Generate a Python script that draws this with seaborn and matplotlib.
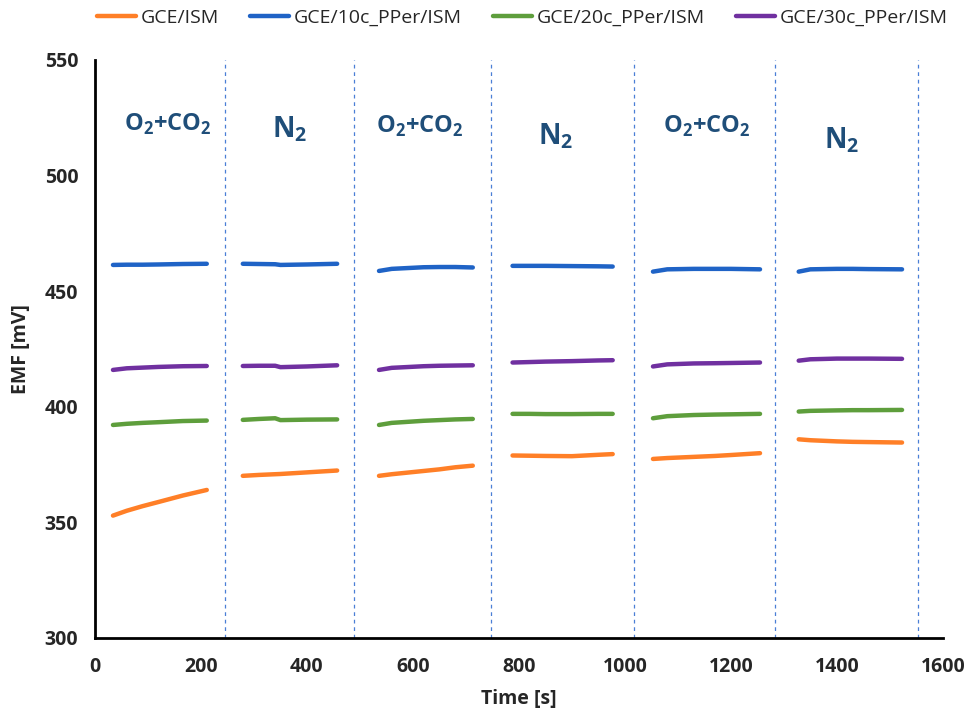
import numpy as np
import pandas as pd
import matplotlib
matplotlib.use("Agg")
import matplotlib.pyplot as plt
import seaborn as sns

# ---- data ----
series_names = ["GCE/ISM", "GCE/10c_PPer/ISM", "GCE/20c_PPer/ISM", "GCE/30c_PPer/ISM"]
series_colors = ["#FF7F27", "#1F63C6", "#5E9E3C", "#7030A0"]

seg_times = [
    [34, 60, 90, 120, 166, 211],
    [279, 310, 340, 350, 400, 457],
    [536, 560, 620, 650, 680, 713],
    [788, 820, 850, 900, 950, 977],
    [1053, 1080, 1130, 1170, 1200, 1255],
    [1328, 1350, 1400, 1430, 1460, 1523],
]

orange = [
    [352.9, 355.0, 357.0, 358.8, 361.6, 364.0],
    [370.1, 370.5, 370.8, 370.9, 371.6, 372.4],
    [370.1, 370.8, 372.2, 372.9, 373.8, 374.5],
    [378.9, 378.8, 378.7, 378.6, 379.2, 379.5],
    [377.4, 377.8, 378.3, 378.7, 379.1, 379.9],
    [385.9, 385.5, 385.0, 384.8, 384.7, 384.5],
]
blue = [
    [461.3, 461.4, 461.4, 461.5, 461.7, 461.8],
    [461.8, 461.7, 461.6, 461.3, 461.5, 461.8],
    [458.7, 459.6, 460.3, 460.4, 460.4, 460.2],
    [460.9, 460.9, 460.9, 460.8, 460.7, 460.6],
    [458.4, 459.4, 459.6, 459.6, 459.6, 459.4],
    [458.4, 459.4, 459.6, 459.6, 459.5, 459.4],
]
green = [
    [392.1, 392.6, 393.0, 393.3, 393.8, 394.0],
    [394.3, 394.7, 395.0, 394.2, 394.4, 394.5],
    [392.1, 393.0, 393.9, 394.2, 394.5, 394.7],
    [396.9, 396.9, 396.8, 396.8, 396.9, 396.9],
    [395.0, 395.9, 396.4, 396.6, 396.7, 396.9],
    [397.9, 398.2, 398.4, 398.5, 398.5, 398.6],
]
purple = [
    [415.9, 416.6, 416.9, 417.2, 417.5, 417.6],
    [417.6, 417.7, 417.7, 417.1, 417.4, 417.9],
    [415.9, 416.8, 417.5, 417.7, 417.8, 417.9],
    [419.1, 419.3, 419.5, 419.7, 420.0, 420.1],
    [417.4, 418.3, 418.7, 418.8, 418.9, 419.1],
    [419.9, 420.5, 420.8, 420.8, 420.8, 420.7],
]

divider_times = [245, 489, 748, 1018, 1284, 1553]
gas_labels = [r"O$_\mathbf{2}$+CO$_\mathbf{2}$", r"N$_\mathbf{2}$",
              r"O$_\mathbf{2}$+CO$_\mathbf{2}$", r"N$_\mathbf{2}$",
              r"O$_\mathbf{2}$+CO$_\mathbf{2}$", r"N$_\mathbf{2}$"]
gas_x = [138, 368, 613, 870, 1155, 1410]
gas_y = [522, 520, 521, 517, 521, 515]

# ---- build long table ----
rows = []
for name, data in zip(series_names, [orange, blue, green, purple]):
    for si, (ts, vs) in enumerate(zip(seg_times, data)):
        for t, v in zip(ts, vs):
            rows.append({"Time": t, "EMF": v, "Series": name, "Segment": si})
df = pd.DataFrame(rows)

sns.set_theme(style="white")
plt.rcParams["font.family"] = ["Open Sans", "DejaVu Sans"]
plt.rcParams["mathtext.fontset"] = "custom"
plt.rcParams["mathtext.rm"] = "Open Sans"
plt.rcParams["mathtext.bf"] = "Open Sans:bold"

fig = plt.figure(figsize=(9.69, 7.12), dpi=100)
ax = fig.add_axes([0.098, 0.104, 0.875, 0.812])

sns.lineplot(data=df, x="Time", y="EMF", hue="Series", units="Segment",
             estimator=None, palette=dict(zip(series_names, series_colors)),
             hue_order=series_names, linewidth=3.2, ax=ax, legend=True,
             solid_capstyle="round")

for t in divider_times:
    ax.axvline(t, color="#4A7FD6", linestyle=(0, (3, 3)), linewidth=0.9, zorder=0)

for lab, x, y in zip(gas_labels, gas_x, gas_y):
    fs = 17 if "CO" in lab else 20
    ax.text(x, y, lab, ha="center", va="center", color="#1F4E79",
            fontsize=fs, fontweight="bold")

ax.set_xlim(0, 1600)
ax.set_ylim(300, 550)
ax.set_xticks(np.arange(0, 1601, 200))
ax.set_yticks(np.arange(300, 551, 50))
ax.tick_params(axis="x", length=0, pad=14, labelsize=14)
ax.tick_params(axis="y", length=0, pad=12, labelsize=14)
for lbl in ax.get_xticklabels() + ax.get_yticklabels():
    lbl.set_fontweight("bold")
ax.set_xlabel("Time [s]", fontsize=14, fontweight="bold", labelpad=8)
ax.set_ylabel("EMF [mV]", fontsize=14, fontweight="bold", labelpad=10)

sns.despine(ax=ax)
for s in ["left", "bottom"]:
    ax.spines[s].set_color("black")
    ax.spines[s].set_linewidth(2)

handles, labels = ax.get_legend_handles_labels()
ax.legend(handles, labels, loc="center", bbox_to_anchor=(0.504, 1.073),
          ncol=4, frameon=False, fontsize=14, handlelength=2.0,
          handletextpad=0.25, columnspacing=1.6)

fig.savefig("out.png", dpi=100)
